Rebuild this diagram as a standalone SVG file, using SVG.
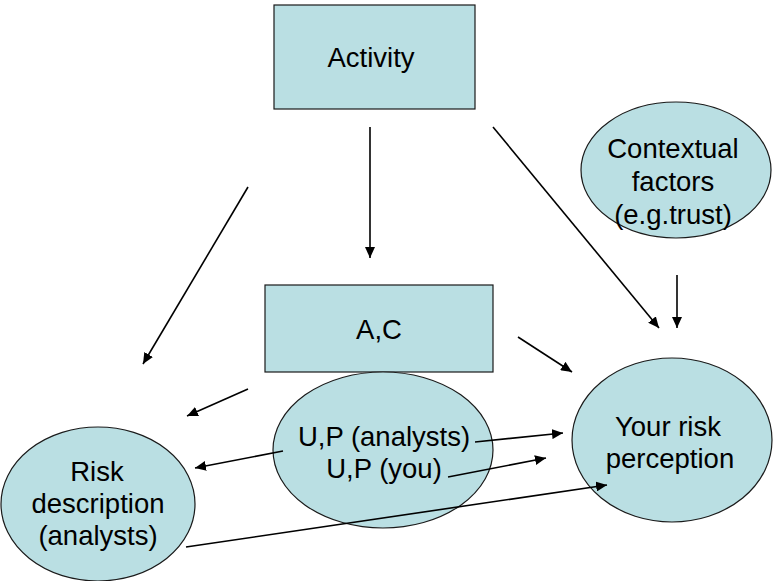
<svg xmlns="http://www.w3.org/2000/svg" width="773" height="581" viewBox="0 0 773 581">
<defs>
<style>
.n{fill:#badfe3;stroke:#1a1a1a;stroke-width:1.2}
.t{font-family:"Liberation Sans",Arial,sans-serif;font-size:27.5px;fill:#000;text-anchor:middle}
.c{stroke:#000;stroke-width:1.6;fill:none;marker-end:url(#ah)}
</style>
<marker id="ah" markerUnits="userSpaceOnUse" markerWidth="12" markerHeight="10" refX="11" refY="5" orient="auto">
<path d="M0,0 L11,5 L0,10 z" fill="#000"/>
</marker>
</defs>
<rect width="773" height="581" fill="#fff"/>
<g id="activity">
<rect class="n" x="274" y="5" width="201" height="104"/>
<text class="t" x="371" y="67">Activity</text>
</g>
<g id="ac">
<rect class="n" x="265" y="285" width="228" height="87"/>
<text class="t" x="379" y="339">A,C</text>
</g>
<g id="up">
<ellipse class="n" cx="383" cy="450" rx="110" ry="78"/>
<text class="t" x="384" y="446">U,P (analysts)</text>
<text class="t" x="384" y="478">U,P (you)</text>
</g>
<g id="risk-description">
<ellipse class="n" cx="98" cy="504" rx="97" ry="77"/>
<text class="t" x="97" y="481">Risk</text>
<text class="t" x="98" y="513">description</text>
<text class="t" x="98" y="545">(analysts)</text>
</g>
<g id="contextual">
<ellipse class="n" cx="676" cy="170" rx="95" ry="68"/>
<text class="t" x="673" y="158">Contextual</text>
<text class="t" x="673" y="191">factors</text>
<text class="t" x="673" y="224">(e.g.trust)</text>
</g>
<g id="perception">
<ellipse class="n" cx="672" cy="440" rx="100" ry="82"/>
<text class="t" x="668" y="436">Your risk</text>
<text class="t" x="670" y="468">perception</text>
</g>
<g id="connectors">
<line class="c" x1="370" y1="127" x2="370" y2="258"/>
<line class="c" x1="248" y1="187" x2="143" y2="364"/>
<line class="c" x1="493" y1="127" x2="659" y2="328"/>
<line class="c" x1="677" y1="275" x2="677" y2="328"/>
<line class="c" x1="518" y1="337" x2="572" y2="372"/>
<line class="c" x1="248" y1="389" x2="187" y2="416"/>
<line class="c" x1="283" y1="451" x2="195" y2="468"/>
<line class="c" x1="475" y1="442" x2="563" y2="433"/>
<line class="c" x1="448" y1="477" x2="546" y2="458"/>
<line class="c" x1="186" y1="547" x2="607" y2="485"/>
</g>
</svg>
